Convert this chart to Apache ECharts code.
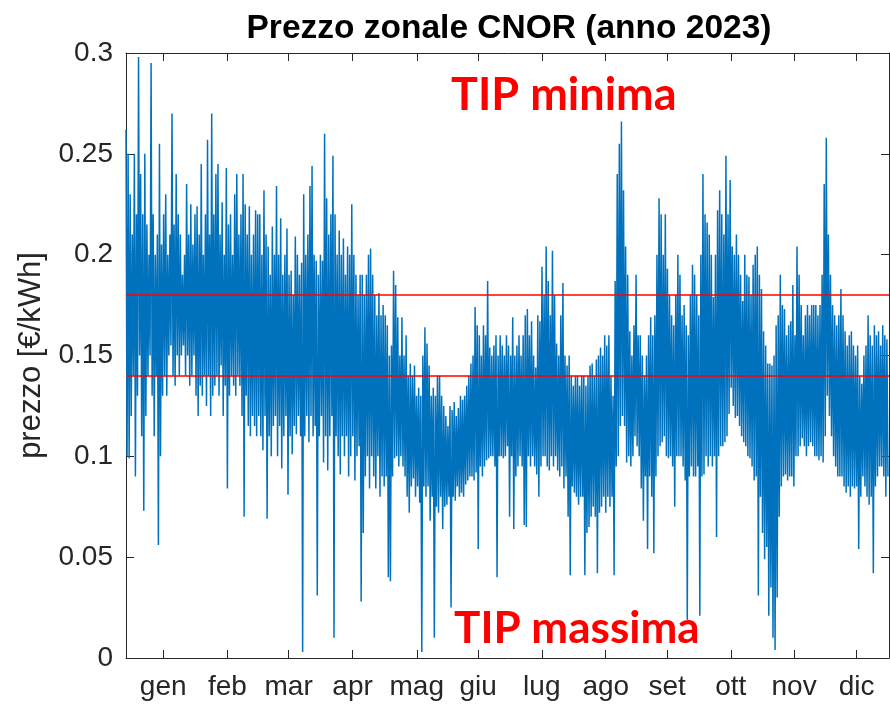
<!DOCTYPE html>
<html>
<head>
<meta charset="utf-8">
<title>Prezzo zonale CNOR 2023</title>
<script src="https://cdn.jsdelivr.net/npm/echarts@6/dist/echarts.min.js"></script>
<style>
  html, body { margin: 0; padding: 0; background: #fff; }
  #chart { width: 890px; height: 709px; }
</style>
</head>
<body>
<div id="chart"></div>
<script>
// prezzo orario: per ogni giorno massimo e minimo alternati (€/kWh)
var gen = [.262,.10, .25,.099, .23,.12, .21,.14, .25,.09, .22,.13, .298,.15, .24,.11, .22,.073, .25,.12,
  .215,.14, .20,.15, .295,.13, .22,.11, .20,.14, .21,.056, .255,.10, .205,.13, .22,.14, .23,.13,
  .20,.15, .21,.155, .27,.14, .215,.135, .24,.15, .22,.14, .21,.15, .19,.155, .20,.14, .235,.15,
  .21,.135, .225,.14, .205,.15];
var feb = [.22,.13, .224,.12, .21,.135, .245,.13, .20,.14, .22,.125, .257,.14, .21,.12, .27,.13, .22,.135,
  .24,.14, .245,.13, .21,.145, .226,.12, .20,.135, .243,.084, .215,.13, .22,.14, .20,.135, .23,.13,
  .24,.14, .21,.135, .22,.12, .24,.07, .225,.13, .21,.115, .224,.11, .20,.12, .21,.115, .222,.11, .22,.12];
var mar = [.22,.11, .20,.103, .232,.12, .21,.069, .204,.11, .19,.10, .214,.115, .20,.12, .234,.10, .20,.115,
  .218,.094, .19,.11, .20,.12, .213,.081, .19,.11, .192,.101, .18,.115, .209,.111, .20,.12, .19,.11,
  .196,.003, .23,.11, .20,.12, .21,.107, .234,.12, .244,.11, .20,.115, .197,.031, .19,.11, .20,.12, .197,.097];
var apr = [.26,.11, .228,.093, .21,.11, .22,.12, .249,.01, .22,.11, .20,.10, .212,.091, .20,.11, .208,.10,
  .19,.11, .204,.09, .20,.10, .225,.11, .20,.088, .19,.10, .18,.105, .19,.028, .19,.062, .18,.09,
  .19,.10, .20,.084, .203,.10, .19,.09, .18,.084, .17,.10, .181,.08, .17,.09, .175,.085, .17,.09];
var mag = [.165,.04, .15,.038, .155,.09, .192,.099, .185,.10, .169,.095, .15,.10, .169,.095, .15,.09, .16,.08,
  .14,.072, .146,.085, .14,.089, .145,.08, .13,.085, .134,.077, .13,.003, .15,.085, .164,.08, .156,.085,
  .145,.068, .13,.08, .134,.01, .13,.075, .14,.072, .14,.08, .13,.064, .125,.075, .12,.076, .115,.08];
var giu = [.125,.025, .123,.08, .127,.078, .12,.085, .124,.08, .13,.082, .128,.08, .13,.086, .135,.088, .14,.09,
  .146,.09, .15,.088, .174,.092, .165,.054, .16,.095, .15,.09, .165,.095, .16,.098, .187,.099, .154,.10,
  .15,.10, .155,.095, .16,.04, .15,.10, .16,.10, .155,.099, .15,.10, .16,.105, .155,.07, .15,.10];
var lug = [.169,.064, .15,.09, .155,.095, .16,.10, .15,.095, .16,.066, .17,.065, .173,.10, .16,.095, .167,.10,
  .15,.095, .144,.091, .17,.08, .167,.095, .194,.10, .18,.10, .204,.095, .187,.093, .17,.10, .202,.095,
  .18,.10, .156,.093, .15,.09, .17,.095, .186,.084, .15,.09, .145,.07, .15,.041, .14,.085, .135,.082];
var ago = [.14,.08, .14,.076, .135,.08, .14,.08, .14,.041, .135,.062, .14,.065, .145,.07, .146,.075, .14,.07,
  .148,.042, .15,.072, .154,.075, .15,.08, .16,.072, .155,.08, .16,.075, .14,.08, .13,.041, .187,.095,
  .24,.10, .255,.115, .266,.12, .232,.115, .204,.097, .19,.10, .162,.095, .15,.10, .165,.11, .19,.105];
var set = [.16,.10, .16,.084, .15,.068, .14,.09, .15,.054, .16,.09, .169,.08, .16,.052, .17,.09, .20,.10,
  .228,.105, .22,.107, .20,.11, .22,.10, .193,.099, .18,.10, .17,.095, .165,.075, .18,.10, .20,.10,
  .19,.10, .17,.095, .175,.088, .165,.019, .16,.09, .18,.095, .195,.09, .19,.09, .18,.095, .17,.021];
var ott = [.20,.09, .24,.091, .22,.10, .216,.095, .21,.10, .20,.095, .179,.10, .20,.06, .222,.10, .232,.105,
  .22,.105, .21,.107, .249,.11, .22,.121, .237,.134, .204,.125, .20,.119, .21,.12, .20,.115, .19,.11,
  .177,.107, .20,.105, .19,.10, .189,.099, .18,.095, .195,.088, .20,.09, .204,.031, .19,.08, .183,.062];
var nov = [.162,.049, .155,.055, .146,.021, .146,.035, .145,.01, .15,.004, .165,.03, .17,.07, .19,.085, .175,.09,
  .173,.091, .16,.088, .165,.09, .167,.09, .185,.085, .16,.10, .204,.10, .19,.105, .175,.109, .16,.105,
  .17,.10, .175,.105, .17,.107, .175,.105, .175,.10, .175,.10, .17,.098, .175,.10, .19,.097, .235,.11];
var dic = [.258,.13, .21,.12, .19,.11, .175,.10, .17,.095, .165,.09, .17,.09, .183,.09, .17,.085, .162,.082,
  .155,.085, .16,.08, .162,.085, .155,.084, .15,.085, .155,.054, .14,.08, .136,.09, .15,.085, .155,.08,
  .17,.076, .16,.08, .155,.042, .165,.085, .16,.09, .162,.095, .155,.095, .165,.09, .16,.08, .158,.09];

var mesi = ['gen', 'feb', 'mar', 'apr', 'mag', 'giu', 'lug', 'ago', 'set', 'ott', 'nov', 'dic'];
var tickMesi = [17.8, 48.5, 77.8, 108.4, 139.1, 168.5, 198.9, 229.5, 258.9, 289.3, 319.6, 349.5];
var sogliaTIP = [0.18, 0.14];

var valori = [].concat(gen, feb, mar, apr, mag, giu, lug, ago, set, ott, nov, dic);
var serie = valori.map(function (v, i) { return [i * 0.5, v]; });

var chart = echarts.init(document.getElementById('chart'));
var grigio = '#262626';
var option = {
  animation: false,
  backgroundColor: '#fff',
  title: {
    text: 'Prezzo zonale CNOR (anno 2023)',
    left: 504,
    top: 7,
    textAlign: 'center',
    textStyle: { fontFamily: 'Liberation Sans', fontWeight: 'bold', fontSize: 33.5, color: '#000' }
  },
  grid: { left: 126, right: 1, top: 53, bottom: 51, outerBoundsMode: 'none' },
  xAxis: [
    {
      type: 'value', min: 0, max: 365,
      axisLine: { show: true, lineStyle: { color: grigio, width: 1 } },
      splitLine: { show: false },
      axisTick: { inside: true, length: 8, customValues: tickMesi, lineStyle: { color: grigio } },
      axisLabel: {
        customValues: tickMesi,
        margin: 15,
        fontFamily: 'Liberation Sans', fontSize: 28, color: grigio,
        formatter: function (v) {
          var k = tickMesi.indexOf(v);
          return k >= 0 ? mesi[k] : '';
        }
      }
    },
    {
      type: 'value', min: 0, max: 365, position: 'top',
      axisLine: { show: true, onZero: false, lineStyle: { color: grigio, width: 1 } },
      splitLine: { show: false },
      axisTick: { inside: true, length: 8, customValues: tickMesi, lineStyle: { color: grigio } },
      axisLabel: { show: false }
    }
  ],
  yAxis: [
    {
      type: 'value', min: 0, max: 0.3, interval: 0.05,
      name: 'prezzo [€/kWh]',
      nameLocation: 'middle',
      nameGap: 79,
      nameTextStyle: { fontFamily: 'Liberation Sans', fontSize: 31, color: grigio },
      axisLine: { show: true, lineStyle: { color: grigio, width: 1 } },
      splitLine: { show: false },
      axisTick: { show: true, inside: true, length: 8, lineStyle: { color: grigio } },
      axisLabel: { margin: 13, fontFamily: 'Liberation Sans', fontSize: 28, color: grigio }
    },
    {
      type: 'value', min: 0, max: 0.3, interval: 0.05, position: 'right',
      axisLine: { show: true, onZero: false, lineStyle: { color: grigio, width: 1 } },
      splitLine: { show: false },
      axisTick: { show: true, inside: true, length: 8, lineStyle: { color: grigio } },
      axisLabel: { show: false }
    }
  ],
  series: [
    {
      name: 'prezzo',
      type: 'line',
      data: serie,
      showSymbol: false,
      sampling: null,
      lineStyle: { color: '#0072BD', width: 1.5 },
      markLine: {
        silent: true,
        symbol: 'none',
        label: { show: false },
        lineStyle: { color: '#ff0000', width: 1.6, type: 'solid' },
        data: sogliaTIP.map(function (s) { return { yAxis: s }; })
      }
    }
  ],
  graphic: [
    {
      type: 'text', left: 451, top: 73, z: 100,
      style: { text: 'TIP minima', font: 'bold 45px Lato', fill: '#ff0000' }
    },
    {
      type: 'text', left: 454, top: 607, z: 100,
      style: { text: 'TIP massima', font: 'bold 44px Lato', fill: '#ff0000' }
    }
  ]
};
chart.setOption(option);
</script>
</body>
</html>
